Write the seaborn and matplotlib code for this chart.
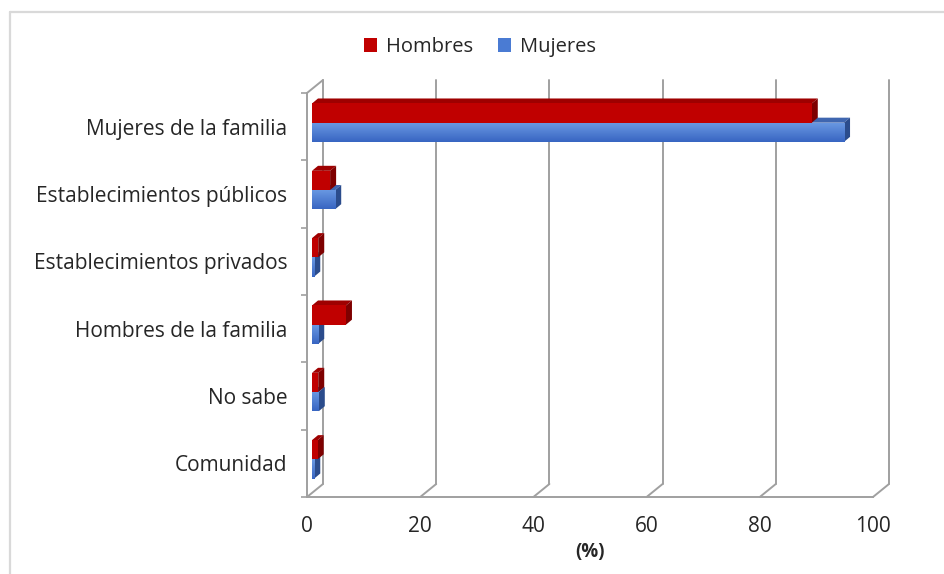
import numpy as np
import pandas as pd
import matplotlib
matplotlib.use("Agg")
import matplotlib.pyplot as plt
import seaborn as sns
from matplotlib import transforms as mtrans
from matplotlib.patches import Polygon, Rectangle
from matplotlib.lines import Line2D
from matplotlib.colors import LinearSegmentedColormap

# ---------------- data ----------------
categories = ["Mujeres de la familia", "Establecimientos públicos",
              "Establecimientos privados", "Hombres de la familia",
              "No sabe", "Comunidad"]
series = ["Hombres", "Mujeres"]
hombres = [88.3, 3.2, 1.1, 6.0, 1.1, 1.0]
mujeres = [94.0, 4.1, 0.4, 1.1, 1.2, 0.4]
x_ticks = [0, 20, 40, 60, 80, 100]
x_label = "(%)"

df = pd.DataFrame({
    "Categoria": categories * 2,
    "Sexo": [series[0]] * len(categories) + [series[1]] * len(categories),
    "Valor": hombres + mujeres,
})

# ---------------- style ----------------
sns.set_theme(style="white")
plt.rcParams["font.family"] = ["Open Sans", "DejaVu Sans"]
TXT = "#262626"
GRID = "#A0A0A0"
RED = "#C00000"
BLUE = "#4A7BD3"

W, H, DPI = 944, 574, 100
fig = plt.figure(figsize=(W / DPI, H / DPI), dpi=DPI)
L, R, T, B = 307, 873, 93, 497
ax = fig.add_axes([L / W, 1 - B / H, (R - L) / W, (B - T) / H])
ax.set_facecolor("none")

sns.barplot(data=df, y="Categoria", x="Valor", hue="Sexo",
            order=categories, hue_order=series,
            palette={series[0]: RED, series[1]: BLUE},
            orient="h", width=0.57, saturation=1, ax=ax,
            edgecolor="none", linewidth=0, legend=False, zorder=3)

ax.set_xlim(0, 100)
ax.set_ylim(len(categories) - 0.5, -0.5)

# pseudo-3D offsets (display pixels)
bar_off = mtrans.Affine2D().translate(5, 4)
trans_bar = ax.transData + bar_off
BACK = (16, 13)
trans_back = ax.transData + mtrans.Affine2D().translate(*BACK)
DX, DY = 6, 5
ident = mtrans.IdentityTransform()

blue_cmap = LinearSegmentedColormap.from_list("b", ["#6B9AE3", "#3865C2"])
face_cols = {0: ("#9E0000", "#7E0000"), 1: ("#3F66B0", "#2B4C8C")}

fig.canvas.draw()
for ci, cont in enumerate(ax.containers):
    top_c, side_c = face_cols[ci]
    zbase = 3.2 if ci == 0 else 2.6
    for p in cont.patches:
        p.set_transform(trans_bar)
        p.set_zorder(zbase)
        p.set_clip_on(False)
        x, y, w, h = p.get_x(), p.get_y(), p.get_width(), p.get_height()
        pts = trans_bar.transform([(x, y), (x + w, y + h)])
        xl, xr = pts[:, 0].min(), pts[:, 0].max()
        yb, yt = pts[:, 1].min(), pts[:, 1].max()
        top = Polygon([(xl, yt), (xr, yt), (xr + DX, yt + DY), (xl + DX, yt + DY)],
                      closed=True, facecolor=top_c, edgecolor="none",
                      transform=ident, zorder=zbase - 0.05)
        side = Polygon([(xr, yb), (xr, yt), (xr + DX, yt + DY), (xr + DX, yb + DY)],
                       closed=True, facecolor=side_c, edgecolor="none",
                       transform=ident, zorder=zbase - 0.05)
        ax.add_artist(top)
        ax.add_artist(side)
        top.set_clip_on(False)
        side.set_clip_on(False)
        if ci == 1:
            grad = np.linspace(0, 1, 64).reshape(-1, 1)
            im = ax.imshow(grad, extent=[x, x + w, y + h, y], aspect="auto",
                           cmap=blue_cmap, origin="upper",
                           zorder=zbase + 0.01, interpolation="bilinear")
            im.set_transform(trans_bar)
            im.set_clip_path(p)

ax.set_xlim(0, 100)
ax.set_ylim(len(categories) - 0.5, -0.5)

# back wall gridlines
for v in x_ticks:
    ax.plot([v, v], [len(categories) - 0.5, -0.5], transform=trans_back,
            color=GRID, lw=1.4, clip_on=False, zorder=1)
# floor diagonals
for v in x_ticks:
    p0 = ax.transData.transform((v, len(categories) - 0.5))
    ln = Line2D([p0[0], p0[0] + BACK[0]], [p0[1], p0[1] + BACK[1]],
                transform=ident, color=GRID, lw=1.4, zorder=1)
    ax.add_artist(ln)
    ln.set_clip_on(False)
# top-left wall diagonal
p0 = ax.transData.transform((0, -0.5))
ln = Line2D([p0[0], p0[0] + BACK[0]], [p0[1], p0[1] + BACK[1]],
            transform=ident, color=GRID, lw=1.4, zorder=1)
ax.add_artist(ln)
ln.set_clip_on(False)

# spines / ticks
for s in ["top", "right"]:
    ax.spines[s].set_visible(False)
for s in ["left", "bottom"]:
    ax.spines[s].set_color(GRID)
    ax.spines[s].set_linewidth(1.4)
ax.set_xticks(x_ticks)
ax.set_xticklabels([str(v) for v in x_ticks])
ax.set_yticks(range(len(categories)))
ax.set_yticklabels(categories)
ax.set_yticks(np.arange(-0.5, len(categories), 1.0), minor=True)
ax.tick_params(axis="x", which="major", direction="out", length=4.5, width=1.2,
               color=GRID, labelsize=15, labelcolor=TXT, pad=9)
ax.tick_params(axis="y", which="major", length=0, labelsize=15, labelcolor=TXT, pad=14)
ax.tick_params(axis="y", which="minor", direction="out", length=4.5, width=1.2,
               color=GRID, left=True)
ax.set_ylabel("")
ax.set_xlabel(x_label, fontweight="bold", fontsize=13.5, color=TXT, labelpad=4)
ax.grid(False)

# legend
handles = [Rectangle((0, 0), 1, 1, facecolor=c, edgecolor="none") for c in (RED, BLUE)]
fig.legend(handles, series, loc="center", bbox_to_anchor=(480 / W, 1 - 47 / H),
           ncol=2, frameon=False, handlelength=0.65, handleheight=0.65,
           handletextpad=0.45, columnspacing=1.2, fontsize=14.5,
           labelcolor=TXT)

# outer border (partial frame)
fig.add_artist(Line2D([10 / W, 1], [1 - 12 / H, 1 - 12 / H], transform=fig.transFigure,
                      color="#D9D9D9", lw=1.6))
fig.add_artist(Line2D([10 / W, 10 / W], [0, 1 - 12 / H], transform=fig.transFigure,
                      color="#D9D9D9", lw=1.6))

fig.savefig("out.png", dpi=DPI, facecolor="white")
